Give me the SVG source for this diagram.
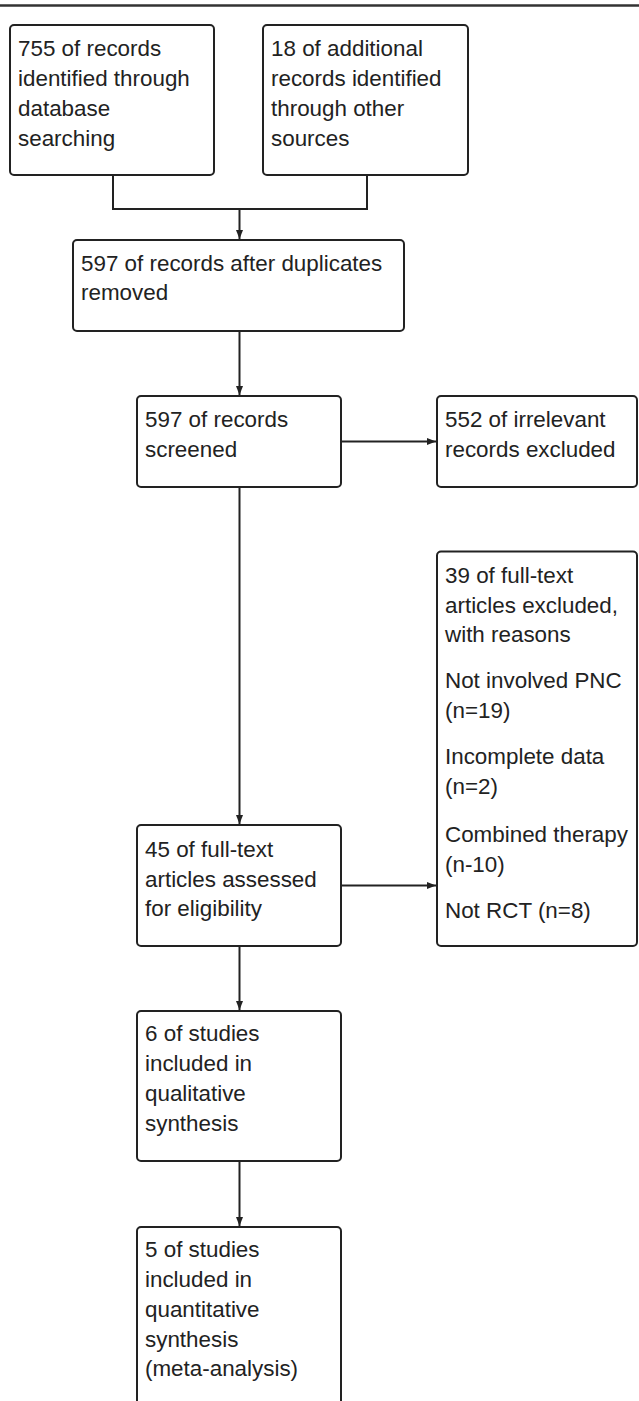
<svg xmlns="http://www.w3.org/2000/svg" width="639" height="1401" viewBox="0 0 639 1401">
<defs>
<style>
.box{fill:#fff;stroke:#222;stroke-width:2}
.t{font-family:"Liberation Sans",Arial,sans-serif;font-size:22.4px;fill:#222}
.c{fill:none;stroke:#222;stroke-width:2}
</style>
<marker id="ah" markerUnits="userSpaceOnUse" markerWidth="9" markerHeight="8" refX="9" refY="4" orient="auto">
<path d="M0,0.5 L9,4 L0,7.5 z" fill="#222"/>
</marker>
</defs>
<rect width="639" height="1401" fill="#fff"/>
<line x1="0" y1="5.5" x2="639" y2="5.5" stroke="#333" stroke-width="2.5"/>
<g id="connectors">
<path class="c" d="M113,175 V209 H367 V175"/>
<path class="c" d="M239.5,209 V239" marker-end="url(#ah)"/>
<path class="c" d="M239.5,331 V395" marker-end="url(#ah)"/>
<path class="c" d="M341,441.5 H436" marker-end="url(#ah)"/>
<path class="c" d="M239.5,487 V824" marker-end="url(#ah)"/>
<path class="c" d="M341,885.5 H436" marker-end="url(#ah)"/>
<path class="c" d="M239.5,946 V1010" marker-end="url(#ah)"/>
<path class="c" d="M239.5,1161 V1226" marker-end="url(#ah)"/>
</g>
<g id="n1">
<rect class="box" x="10" y="25" width="204" height="150" rx="4"/>
<text class="t" x="18" y="55.5">755 of records</text>
<text class="t" x="18" y="85.5">identified through</text>
<text class="t" x="18" y="115.5">database</text>
<text class="t" x="18" y="145.5">searching</text>
</g>
<g id="n2">
<rect class="box" x="263" y="25" width="205" height="150" rx="4"/>
<text class="t" x="271" y="55.5">18 of additional</text>
<text class="t" x="271" y="85.5">records identified</text>
<text class="t" x="271" y="115.5">through other</text>
<text class="t" x="271" y="145.5">sources</text>
</g>
<g id="n3">
<rect class="box" x="73" y="240" width="331" height="91" rx="4"/>
<text class="t" x="81" y="271">597 of records after duplicates</text>
<text class="t" x="81" y="300">removed</text>
</g>
<g id="n4">
<rect class="box" x="137" y="396" width="204" height="91" rx="4"/>
<text class="t" x="145" y="427">597 of records</text>
<text class="t" x="145" y="457">screened</text>
</g>
<g id="n5">
<rect class="box" x="437" y="396" width="200" height="91" rx="4"/>
<text class="t" x="445" y="427">552 of irrelevant</text>
<text class="t" x="445" y="457">records excluded</text>
</g>
<g id="n6">
<rect class="box" x="437" y="551.5" width="200" height="394.5" rx="4"/>
<text class="t" x="445" y="583">39 of full-text</text>
<text class="t" x="445" y="613">articles excluded,</text>
<text class="t" x="445" y="642">with reasons</text>
<text class="t" x="445" y="688">Not involved PNC</text>
<text class="t" x="445" y="718">(n=19)</text>
<text class="t" x="445" y="764">Incomplete data</text>
<text class="t" x="445" y="794">(n=2)</text>
<text class="t" x="445" y="842">Combined therapy</text>
<text class="t" x="445" y="872">(n-10)</text>
<text class="t" x="445" y="918">Not RCT (n=8)</text>
</g>
<g id="n7">
<rect class="box" x="137" y="825" width="204" height="121" rx="4"/>
<text class="t" x="145" y="857">45 of full-text</text>
<text class="t" x="145" y="887">articles assessed</text>
<text class="t" x="145" y="916">for eligibility</text>
</g>
<g id="n8">
<rect class="box" x="137" y="1011" width="204" height="150" rx="4"/>
<text class="t" x="145" y="1041">6 of studies</text>
<text class="t" x="145" y="1071">included in</text>
<text class="t" x="145" y="1101">qualitative</text>
<text class="t" x="145" y="1131">synthesis</text>
</g>
<g id="n9">
<rect class="box" x="137" y="1227" width="204" height="190" rx="4"/>
<text class="t" x="145" y="1257">5 of studies</text>
<text class="t" x="145" y="1287">included in</text>
<text class="t" x="145" y="1317">quantitative</text>
<text class="t" x="145" y="1347">synthesis</text>
<text class="t" x="145" y="1376">(meta-analysis)</text>
</g>
</svg>
